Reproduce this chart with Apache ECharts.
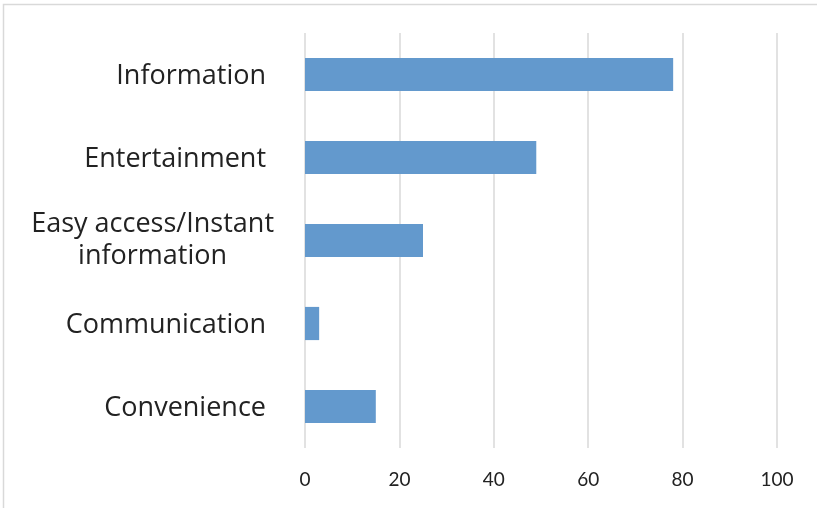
<!DOCTYPE html>
<html><head><meta charset="utf-8">
<script src="https://cdn.jsdelivr.net/npm/echarts@6/dist/echarts.min.js"></script>
<style>html,body{margin:0;padding:0;background:#fff}#c{width:817px;height:508px}</style>
</head><body><div id="c"></div>
<script>
const categories = ['Information', 'Entertainment', 'Easy access/Instant\ninformation', 'Communication', 'Convenience'];
const values = [78, 49, 25, 3, 15];
const xTicks = [0, 20, 40, 60, 80, 100];

const chart = echarts.init(document.getElementById('c'));
chart.setOption({
  animation: false,
  graphic: [{ type: 'rect', shape: { x: 3.5, y: 4.5, width: 900, height: 600 }, style: { fill: 'none', stroke: '#d9d9d9', lineWidth: 1.5 }, silent: true }],
  grid: { left: 305, right: 40, top: 33, bottom: 60, containLabel: false },
  xAxis: {
    type: 'value', min: xTicks[0], max: xTicks[xTicks.length - 1], interval: 20,
    axisLine: { show: false }, axisTick: { show: false },
    splitLine: { lineStyle: { color: '#d9d9d9', width: 1.5 } },
    axisLabel: { fontFamily: 'Lato', fontSize: 19, color: '#222', margin: 22 }
  },
  yAxis: {
    type: 'category', inverse: true, data: categories,
    axisLine: { show: false }, axisTick: { show: false },
    axisLabel: {
      margin: 31, color: '#222', fontFamily: 'Open Sans', fontSize: 27, lineHeight: 32,
      formatter: function (v) {
        const parts = v.split('\n');
        if (parts.length === 1) return '{s|' + v + '}';
        return parts.map(s => '{a|' + s + '}').join('\n');
      },
      rich: {
        a: { fontFamily: 'Open Sans', fontSize: 27, lineHeight: 32, color: '#222', align: 'center' },
        s: { fontFamily: 'Open Sans', fontSize: 27, lineHeight: 32, color: '#222', padding: [3, 8, 0, 0] }
      }
    }
  },
  series: [{
    type: 'bar', data: values, barWidth: '40%',
    itemStyle: { color: '#6399cd' }
  }]
});
</script></body></html>
